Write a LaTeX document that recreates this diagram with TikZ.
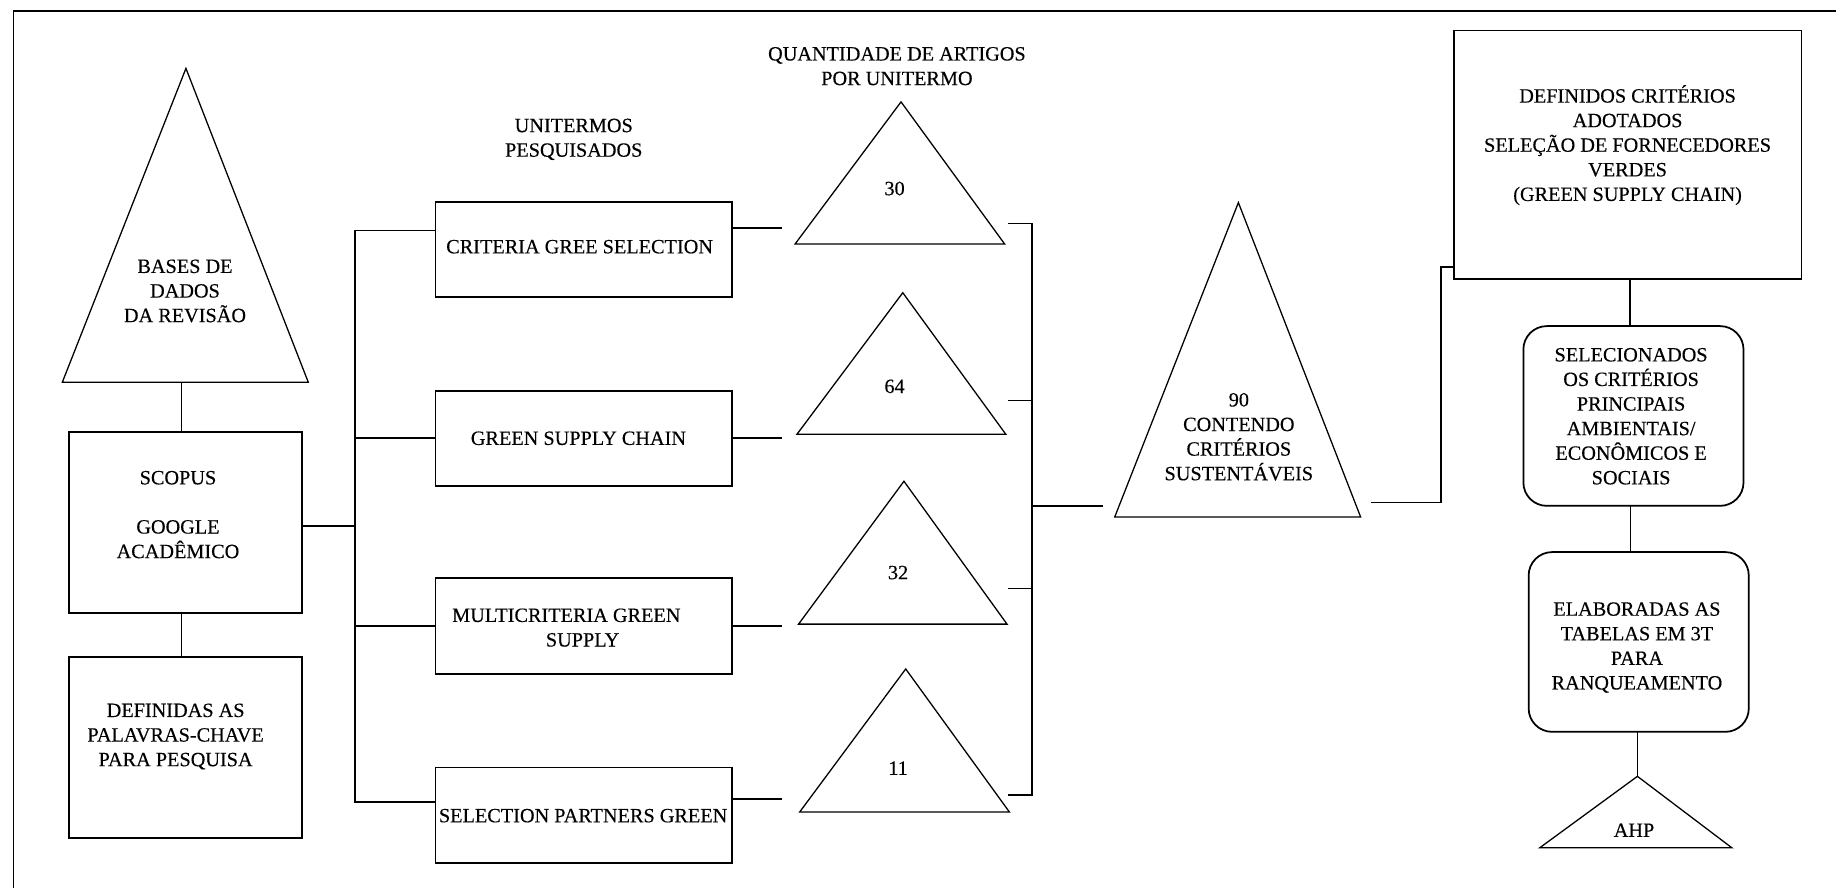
\documentclass[tikz,border=0pt]{standalone}
\usepackage{fontspec}
\setmainfont{Liberation Serif}[FakeBold=0.3]
\begin{document}
\begin{tikzpicture}[x=1pt,y=-1pt,
  box/.style={draw, line width=1.5pt, inner sep=0pt, outer sep=0pt},
  rbox/.style={box, rounded corners=20pt},
  wire/.style={line width=1.4pt},
  tri/.style={line width=1.1pt, line join=miter},
  txt/.style={align=center, inner sep=0pt, font=\fontsize{17.3}{21}\selectfont}]
\useasboundingbox (0,0) rectangle (1568,758);

% outer frame (only top and left edges fall inside the page)
\coordinate (frameTL) at (11.5,9.5);
\coordinate (frameBL) at (11.5,760);
\coordinate (frameTR) at (1570,9.5);
\draw[line width=1.6pt] (frameBL) -- (frameTL) -- (frameTR);

% ---------- left column ----------
\coordinate (basesA) at (158.8,58.4);
\coordinate (basesL) at (53.2,326.5);
\coordinate (basesR) at (263.3,326.5);
\draw[tri] (basesA) -- (basesL) -- (basesR) -- cycle;
\node[txt] (basesTxt) at (158,248.5) {BASES DE\\DADOS\\DA REVISÃO};

\node[box, minimum width=199pt, minimum height=154.5pt] (scopus) at (158.5,446.3) {};
\node[txt] (scopusTxt) at (152,439.5) {SCOPUS\\[21pt]GOOGLE\\ACADÊMICO};

\node[box, minimum width=199pt, minimum height=154.6pt] (defin) at (158.5,638.3) {};
\node[txt] (definTxt) at (150,629) {DEFINIDAS AS\\PALAVRAS-CHAVE\\PARA PESQUISA};

\coordinate (basesFoot) at (155,326.5);
\draw[wire] (basesFoot) -- (basesFoot |- scopus.north);
\coordinate (scopusFoot) at (155,523.5);
\draw[wire] (scopusFoot) -- (scopusFoot |- defin.north);

% ---------- search terms ----------
\node[txt] (uniTitle) at (490,119) {UNITERMOS\\PESQUISADOS};

\node[box, minimum width=253pt, minimum height=81.2pt] (crit) at (498.5,212.8) {};
\node[txt] (critTxt) at (495,210.7) {CRITERIA GREE SELECTION};

\node[box, minimum width=253pt, minimum height=81.4pt] (green) at (498.5,374.3) {};
\node[txt] (greenTxt) at (494,374.3) {GREEN SUPPLY CHAIN};

\node[box, minimum width=253pt, minimum height=81.7pt] (multi) at (498.5,534.7) {};
\node[txt, align=left, anchor=west] (multiTxt) at (386,536) {MULTICRITERIA GREEN\\\hspace*{80pt}SUPPLY};

\node[box, minimum width=253pt, minimum height=81.7pt] (select) at (498.5,696.4) {};
\node[txt] (selectTxt) at (498,696.6) {SELECTION PARTNERS GREEN};

% bus from the databases to the search terms
\coordinate (busTop) at (303,197);
\coordinate (busBot) at (303,685);
\coordinate (busScopus) at (303,449);
\coordinate (busGreen) at (303,374.3);
\coordinate (busMulti) at (303,534.6);
\draw[wire] (busScopus -| scopus.east) -- (busScopus);
\draw[wire] (busTop -| crit.west) -- (busTop) -- (busBot) -- (busBot -| select.west);
\draw[wire] (busGreen) -- (busGreen -| green.west);
\draw[wire] (busMulti) -- (busMulti -| multi.west);

% ---------- article counts ----------
\node[txt] (qtyTitle) at (766,56.5) {QUANTIDADE DE ARTIGOS\\POR UNITERMO};

\coordinate (t30A) at (769.5,87);
\coordinate (t30L) at (679,208.4);
\coordinate (t30R) at (858,208.4);
\draw[tri] (t30A) -- (t30L) -- (t30R) -- cycle;
\node[txt] (n30) at (764,161) {30};

\coordinate (t64A) at (771,250);
\coordinate (t64L) at (680.6,370.9);
\coordinate (t64R) at (859,370.9);
\draw[tri] (t64A) -- (t64L) -- (t64R) -- cycle;
\node[txt] (n64) at (764,330) {64};

\coordinate (t32A) at (772,411);
\coordinate (t32L) at (682,533);
\coordinate (t32R) at (860,533);
\draw[tri] (t32A) -- (t32L) -- (t32R) -- cycle;
\node[txt] (n32) at (767,489) {32};

\coordinate (t11A) at (773.5,571.3);
\coordinate (t11L) at (683,693.4);
\coordinate (t11R) at (862,693.4);
\draw[tri] (t11A) -- (t11L) -- (t11R) -- cycle;
\node[txt] (n11) at (767,656) {11};

% stubs from the terms towards their counts
\coordinate (sCrit) at (668,194.7);
\coordinate (sGreen) at (668,374.3);
\coordinate (sMulti) at (668,534.6);
\coordinate (sSelect) at (668,682.3);
\draw[wire] (sCrit -| crit.east) -- (sCrit);
\draw[wire] (sGreen -| green.east) -- (sGreen);
\draw[wire] (sMulti -| multi.east) -- (sMulti);
\draw[wire] (sSelect -| select.east) -- (sSelect);

% bracket gathering the counts
\coordinate (brTop) at (881.6,191);
\coordinate (br2) at (881.6,342);
\coordinate (brMid) at (881.6,432);
\coordinate (br3) at (881.6,502.7);
\coordinate (brBot) at (881.6,679);
\coordinate (brIn) at (860.5,0);
\coordinate (brOut) at (941.6,432);
\draw[wire] (brTop -| brIn) -- (brTop) -- (brBot) -- (brBot -| brIn);
\draw[wire] (br2 -| brIn) -- (br2);
\draw[wire] (br3 -| brIn) -- (br3);
\draw[wire] (brMid) -- (brOut);

% ---------- total ----------
\coordinate (t90A) at (1057.6,173);
\coordinate (t90L) at (952,441.5);
\coordinate (t90R) at (1162,441.5);
\draw[tri] (t90A) -- (t90L) -- (t90R) -- cycle;
\node[txt] (n90) at (1058,373) {90\\CONTENDO\\CRITÉRIOS\\SUSTENTÁVEIS};

% ---------- right column ----------
\node[box, minimum width=297pt, minimum height=212pt] (defcrit) at (1390.1,132) {};
\node[txt] (defcritTxt) at (1390,124) {DEFINIDOS CRITÉRIOS\\ADOTADOS\\SELEÇÃO DE FORNECEDORES\\VERDES\\(GREEN SUPPLY CHAIN)};

\node[rbox, minimum width=188pt, minimum height=153.5pt] (selec) at (1395,355.25) {};
\node[txt] (selecTxt) at (1393,355.5) {SELECIONADOS\\OS CRITÉRIOS\\PRINCIPAIS\\AMBIENTAIS/\\ECONÔMICOS E\\SOCIAIS};

\node[rbox, minimum width=188pt, minimum height=153.5pt] (elab) at (1399.5,548.25) {};
\node[txt] (elabTxt) at (1398,553) {ELABORADAS AS\\TABELAS EM 3T\\PARA\\RANQUEAMENTO};

\coordinate (ahpA) at (1398.4,663);
\coordinate (ahpL) at (1315,724);
\coordinate (ahpR) at (1479,724);
\draw[tri] (ahpA) -- (ahpL) -- (ahpR) -- cycle;
\node[txt] (ahpTxt) at (1395.5,709) {AHP};

% connections on the right
\coordinate (totOut) at (1170.6,429);
\coordinate (elbow) at (1230.6,228);
\draw[wire] (totOut) -- (totOut -| elbow) -- (elbow) -- (elbow -| defcrit.west);
\coordinate (c1) at (1392,0);
\draw[wire] (c1 |- defcrit.south) -- (c1 |- selec.north);
\coordinate (c2) at (1392.4,0);
\draw[wire] (c2 |- selec.south) -- (c2 |- elab.north);
\draw[wire] (ahpA |- elab.south) -- (ahpA);
\end{tikzpicture}
\end{document}
